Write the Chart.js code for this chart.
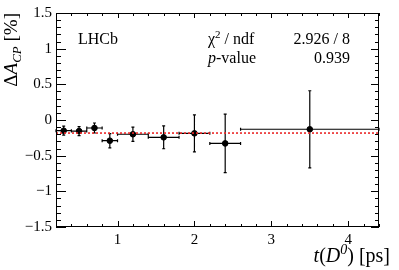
<!DOCTYPE html>
<html>
<head>
<meta charset="utf-8">
<script src="https://cdn.jsdelivr.net/npm/chart.js@4.4.0/dist/chart.umd.min.js"></script>
<style>
  html, body { margin: 0; padding: 0; background: #fff; }
  #wrap { width: 399px; height: 270px; }
</style>
</head>
<body>
<div id="wrap"><canvas id="acp-chart" width="399" height="270"></canvas></div>
<script>
// decay-time bins and measured Delta A_CP per bin [%]
const binCenters = [0.3, 0.5, 0.7, 0.9, 1.2, 1.6, 2.0, 2.4, 3.5];
const binLow     = [0.2, 0.4, 0.6, 0.8, 1.0, 1.4, 1.8, 2.2, 2.6];
const binHigh    = [0.4, 0.6, 0.8, 1.0, 1.4, 1.8, 2.2, 2.6, 4.4];
const deltaAcp    = [-0.15, -0.155, -0.112, -0.29, -0.2, -0.243, -0.187, -0.328, -0.13];
const deltaAcpErr = [0.063, 0.063, 0.07, 0.10, 0.10, 0.16, 0.26, 0.41, 0.54];
const fitValue = -0.183;

const xRange = [0.2, 4.4];
const yRange = [-1.5, 1.5];
const xTicks = [1, 2, 3, 4];
const yTicks = [-1.5, -1, -0.5, 0, 0.5, 1, 1.5];
const xMinorStep = 0.2;
const yMinorStep = 0.1;

const SERIF = '"Liberation Serif", "DejaVu Serif", serif';

function fmt(v) {
    return v < 0 ? '\u2212' + Math.abs(v) : String(v);
}

// draw a run of text pieces: {t, it, size, dy}
function richText(ctx, parts, x, y, align) {
    let total = 0;
    parts.forEach(p => {
        ctx.font = (p.it ? 'italic ' : '') + p.size + 'px ' + SERIF;
        p.w = ctx.measureText(p.t).width;
        total += p.w;
    });
    let cx = align === 'right' ? x - total : x;
    ctx.textAlign = 'left';
    ctx.textBaseline = 'alphabetic';
    parts.forEach(p => {
        ctx.font = (p.it ? 'italic ' : '') + p.size + 'px ' + SERIF;
        ctx.fillText(p.t, cx, y + (p.dy || 0));
        cx += p.w;
    });
    return total;
}

const rootStyle = {
    id: 'rootStyle',
    beforeDatasetsDraw(chart) {
        const ctx = chart.ctx;
        const xs = chart.scales.x, ys = chart.scales.y;
        ctx.save();
        ctx.strokeStyle = '#000';
        ctx.lineWidth = 1.2;
        ctx.beginPath();
        for (let i = 0; i < binCenters.length; i++) {
            const px = xs.getPixelForValue(binCenters[i]);
            const py = ys.getPixelForValue(deltaAcp[i]);
            const x0 = xs.getPixelForValue(binLow[i]);
            const x1 = xs.getPixelForValue(binHigh[i]);
            const y0 = ys.getPixelForValue(deltaAcp[i] - deltaAcpErr[i]);
            const y1 = ys.getPixelForValue(deltaAcp[i] + deltaAcpErr[i]);
            ctx.moveTo(x0, py); ctx.lineTo(x1, py);
            ctx.moveTo(px, y0); ctx.lineTo(px, y1);
            ctx.moveTo(x0, py - 1.5); ctx.lineTo(x0, py + 1.5);
            ctx.moveTo(x1, py - 1.5); ctx.lineTo(x1, py + 1.5);
            ctx.moveTo(px - 1.5, y0); ctx.lineTo(px + 1.5, y0);
            ctx.moveTo(px - 1.5, y1); ctx.lineTo(px + 1.5, y1);
        }
        ctx.stroke();
        ctx.restore();
    },
    afterDraw(chart) {
        const ctx = chart.ctx;
        const a = chart.chartArea;
        const xs = chart.scales.x, ys = chart.scales.y;
        ctx.save();
        ctx.strokeStyle = '#000';
        ctx.lineWidth = 1;
        ctx.strokeRect(a.left + 0.5, a.top + 0.5, a.right - a.left - 1, a.bottom - a.top - 1);

        ctx.beginPath();
        // x ticks, bottom and top, pointing inward
        for (let v = xRange[0]; v <= xRange[1] + 1e-9; v += xMinorStep) {
            const major = xTicks.some(t => Math.abs(t - v) < 1e-6);
            const px = Math.round(xs.getPixelForValue(v)) + 0.5;
            ctx.moveTo(px, a.bottom); ctx.lineTo(px, a.bottom - (major ? 6 : 3));
            ctx.moveTo(px, a.top); ctx.lineTo(px, a.top + (major ? 5 : 3));
        }
        // y ticks, left and right
        for (let v = yRange[0]; v <= yRange[1] + 1e-9; v += yMinorStep) {
            const major = yTicks.some(t => Math.abs(t - v) < 1e-6);
            const py = Math.round(ys.getPixelForValue(v)) + 0.5;
            ctx.moveTo(a.left, py); ctx.lineTo(a.left + (major ? 10 : 5), py);
            ctx.moveTo(a.right, py); ctx.lineTo(a.right - (major ? 8 : 4), py);
        }
        ctx.stroke();

        ctx.fillStyle = '#000';
        richText(ctx, [{t: 'LHCb', size: 16}], 78, 44);
        richText(ctx, [{t: '\u03C7', size: 16}, {t: '2', size: 11, dy: -6}, {t: ' / ndf', size: 16}], 208, 44);
        richText(ctx, [{t: '2.926 / 8', size: 16}], 350, 44, 'right');
        richText(ctx, [{t: 'p', it: true, size: 16}, {t: '-value', size: 16}], 208, 62.5);
        richText(ctx, [{t: '0.939', size: 16}], 350, 62.5, 'right');

        // x axis title
        richText(ctx, [
            {t: 't', it: true, size: 20}, {t: '(', size: 20}, {t: 'D', it: true, size: 20},
            {t: '0', it: true, size: 14, dy: -8}, {t: ') [ps]', size: 20}
        ], 390, 262, 'right');

        // y axis title, rotated, ending at the top of the frame
        ctx.save();
        ctx.translate(17, a.top);
        ctx.rotate(-Math.PI / 2);
        richText(ctx, [
            {t: '\u0394', size: 19}, {t: 'A', it: true, size: 19},
            {t: 'CP', it: true, size: 13, dy: 4}, {t: ' [%]', size: 19}
        ], 0, 0, 'right');
        ctx.restore();
        ctx.restore();
    }
};

new Chart(document.getElementById('acp-chart'), {
    type: 'scatter',
    data: {
        datasets: [{
            label: 'fit',
            type: 'line',
            data: [{x: xRange[0], y: fitValue}, {x: xRange[1], y: fitValue}],
            borderColor: 'rgb(235,40,40)',
            borderWidth: 1.6,
            borderDash: [2, 2],
            pointRadius: 0,
            fill: false
        }, {
            label: 'data',
            data: binCenters.map((x, i) => ({x: x, y: deltaAcp[i]})),
            backgroundColor: '#000',
            borderColor: '#000',
            pointRadius: 2.8,
            pointHoverRadius: 2.8
        }]
    },
    options: {
        responsive: false,
        animation: false,
        devicePixelRatio: 1,
        layout: {padding: {top: 13, right: 20, left: 0, bottom: 0}},
        plugins: {legend: {display: false}, tooltip: {enabled: false}},
        scales: {
            x: {
                type: 'linear',
                min: xRange[0],
                max: xRange[1],
                afterBuildTicks: s => { s.ticks = xTicks.map(v => ({value: v})); },
                afterFit: s => { s.height = 43; },
                grid: {display: false, drawTicks: false, tickLength: 0},
                border: {display: false},
                ticks: {
                    color: '#000',
                    font: {family: SERIF, size: 15},
                    padding: 4,
                    maxRotation: 0,
                    callback: v => fmt(v)
                }
            },
            y: {
                min: yRange[0],
                max: yRange[1],
                afterBuildTicks: s => { s.ticks = yTicks.map(v => ({value: v})); },
                afterFit: s => { s.width = 56; },
                grid: {display: false, drawTicks: false, tickLength: 0},
                border: {display: false},
                ticks: {
                    color: '#000',
                    font: {family: SERIF, size: 15},
                    padding: 4,
                    callback: v => fmt(v)
                }
            }
        }
    },
    plugins: [rootStyle]
});
</script>
</body>
</html>
